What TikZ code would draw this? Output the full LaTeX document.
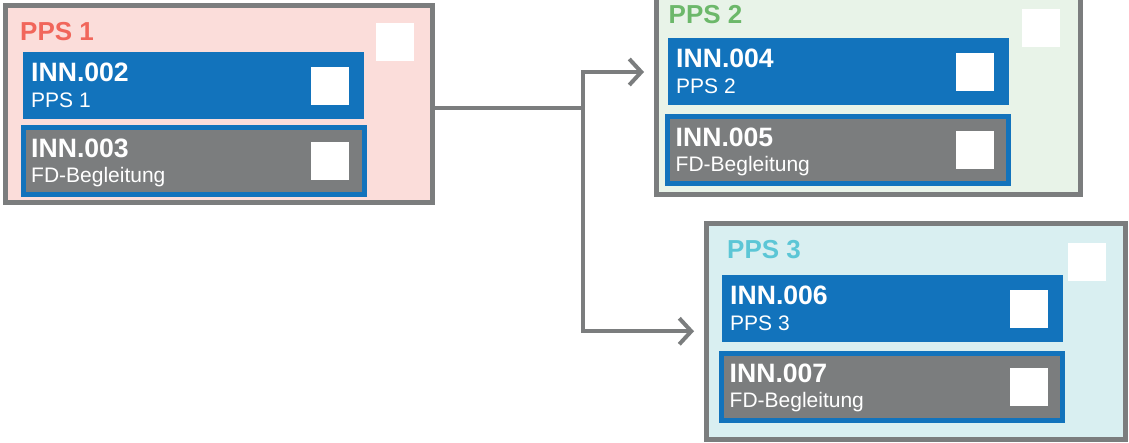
\documentclass[tikz,border=0pt]{standalone}
\usepackage{fontspec}
\setmainfont{Liberation Sans}
\usetikzlibrary{positioning, arrows.meta}

\definecolor{innblue}{HTML}{1273BC}
\definecolor{slate}{HTML}{7B7D7E}
\definecolor{pinkbg}{HTML}{FBDDDA}
\definecolor{pinktxt}{HTML}{F1665B}
\definecolor{greenbg}{HTML}{E8F3E8}
\definecolor{greentxt}{HTML}{6CB86A}
\definecolor{cyanbg}{HTML}{D9EFF1}
\definecolor{cyantxt}{HTML}{5CC6D6}

\begin{document}
\begin{tikzpicture}[x=1pt, y=-1pt, >={Straight Barb[length=12pt,width=26pt]},
    ppsbox/.style={draw=slate, line width=5pt, inner sep=0pt},
    ppstitle/.style={anchor=base west, inner sep=0pt, font=\fontsize{26pt}{30pt}\selectfont\bfseries},
    inncard/.style={fill=innblue, minimum width=341pt, minimum height=67pt, inner sep=0pt},
    fdcard/.style={fill=slate, draw=innblue, line width=5pt, minimum width=341pt, minimum height=67pt, inner sep=0pt},
    innid/.style={anchor=base west, inner sep=0pt, text=white, font=\fontsize{26.6pt}{30pt}\selectfont\bfseries},
    innsub/.style={anchor=base west, inner sep=0pt, text=white, font=\fontsize{21pt}{24pt}\selectfont},
    checkbox/.style={fill=white, minimum size=38pt, inner sep=0pt},
    link/.style={draw=slate, line width=4pt}]
    \useasboundingbox (0,0) rectangle (1129,442);
    \clip (0,0) rectangle (1129,442);

    % PPS 1
    \node[ppsbox, fill=pinkbg, minimum width=427pt, minimum height=197pt] (pps1) at (219,104) {};
    \node[ppstitle, text=pinktxt] (pps1title) at ([shift={(17,37)}]pps1.north west) {PPS 1};
    \node[checkbox, anchor=north east] (pps1box) at ([shift={(-21,20)}]pps1.north east) {};
    \node[inncard] (inn2) at (193.5,85.5) {};
    \node[innid] (inn2id) at ([shift={(-162.5,-4)}]inn2.center) {INN.002};
    \node[innsub] (inn2sub) at ([shift={(-162.5,21.5)}]inn2.center) {PPS 1};
    \node[checkbox] (inn2box) at ([xshift=136.5pt]inn2.center) {};
    \node[fdcard] (inn3) at (193.5,161) {};
    \node[innid] (inn3id) at ([shift={(-162.5,-4)}]inn3.center) {INN.003};
    \node[innsub] (inn3sub) at ([shift={(-162.5,21)}]inn3.center) {FD-Begleitung};
    \node[checkbox] (inn3box) at ([xshift=136.5pt]inn3.center) {};

    % PPS 2
    \node[ppsbox, fill=greenbg, minimum width=423.5pt, minimum height=205pt] (pps2) at (868.25,92) {};
    \node[ppstitle, text=greentxt] (pps2title) at ([shift={(14.5,36)}]pps2.north west) {PPS 2};
    \node[checkbox, anchor=north east] (pps2box) at ([shift={(-22.5,22)}]pps2.north east) {};
    \node[inncard] (inn4) at (838.5,71.5) {};
    \node[innid] (inn4id) at ([shift={(-162.5,-4)}]inn4.center) {INN.004};
    \node[innsub] (inn4sub) at ([shift={(-162.5,21.5)}]inn4.center) {PPS 2};
    \node[checkbox] (inn4box) at ([xshift=136.5pt]inn4.center) {};
    \node[fdcard] (inn5) at (838,150) {};
    \node[innid] (inn5id) at ([shift={(-162.5,-4)}]inn5.center) {INN.005};
    \node[innsub] (inn5sub) at ([shift={(-162.5,21)}]inn5.center) {FD-Begleitung};
    \node[checkbox] (inn5box) at ([xshift=136.5pt]inn5.center) {};

    % PPS 3
    \node[ppsbox, fill=cyanbg, minimum width=419pt, minimum height=216.5pt] (pps3) at (916,331.25) {};
    \node[ppstitle, text=cyantxt] (pps3title) at ([shift={(23,37.5)}]pps3.north west) {PPS 3};
    \node[checkbox, anchor=north east] (pps3box) at ([shift={(-22,22.5)}]pps3.north east) {};
    \node[inncard] (inn6) at (892.5,308.5) {};
    \node[innid] (inn6id) at ([shift={(-162.5,-4)}]inn6.center) {INN.006};
    \node[innsub] (inn6sub) at ([shift={(-162.5,21.5)}]inn6.center) {PPS 3};
    \node[checkbox] (inn6box) at ([xshift=136.5pt]inn6.center) {};
    \node[fdcard] (inn7) at (892,386.5) {};
    \node[innid] (inn7id) at ([shift={(-162.5,-4)}]inn7.center) {INN.007};
    \node[innsub] (inn7sub) at ([shift={(-162.5,21)}]inn7.center) {FD-Begleitung};
    \node[checkbox] (inn7box) at ([xshift=136.5pt]inn7.center) {};

    % Split from PPS 1 to PPS 2 and PPS 3
    \coordinate (fork) at (583,108);
    \draw[link] (pps1.east |- fork) -- (fork);
    \draw[link, ->, shorten >=10pt] (fork) |- ([yshift=20pt]pps2.west);
    \draw[link, ->, shorten >=10pt] (fork) |- (pps3.west);
\end{tikzpicture}
\end{document}
